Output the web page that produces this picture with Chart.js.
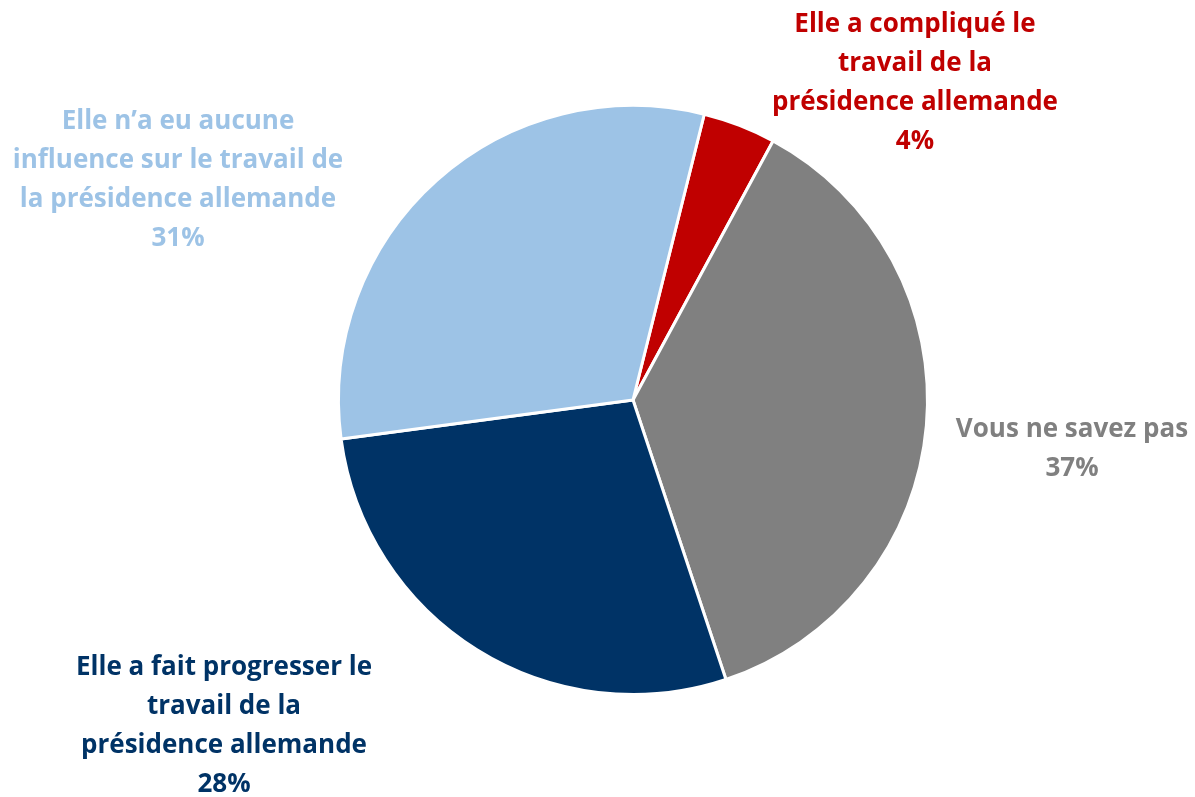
<!DOCTYPE html>
<html>
<head>
<meta charset="utf-8">
<script src="https://cdn.jsdelivr.net/npm/chart.js@4"></script>
<style>
  html, body { margin: 0; padding: 0; background: #fff; }
  #wrap { width: 1195px; height: 797px; }
</style>
</head>
<body>
<div id="wrap"><canvas id="myChart" width="1195" height="797"></canvas></div>
<script>
// slices, clockwise from the red one
const categories = [
    ['Elle a compliqué le', 'travail de la', 'présidence allemande'],
    ['Vous ne savez pas'],
    ['Elle a fait progresser le', 'travail de la', 'présidence allemande'],
    ['Elle n\u2019a eu aucune', 'influence sur le travail de', 'la présidence allemande']
];
const values = [4, 37, 28, 31];
const colors = ['#C00000', '#808080', '#003366', '#9DC3E6'];

// where each label block is centred (x, y of the first line)
const labelPos = [
    { x: 915, y: 25 },
    { x: 1072, y: 430 },
    { x: 224, y: 668 },
    { x: 178, y: 122 }
];
const lineH = 39;

const labelPlugin = {
    id: 'sliceLabels',
    afterDraw(chart) {
        const c = chart.ctx;
        c.save();
        c.font = 'bold 26px "Open Sans"';
        c.textAlign = 'center';
        c.textBaseline = 'middle';
        categories.forEach((lines, i) => {
            c.fillStyle = colors[i];
            const all = lines.concat([values[i] + '%']);
            all.forEach((t, j) => {
                c.fillText(t, labelPos[i].x, labelPos[i].y + j * lineH);
            });
        });
        c.restore();
    }
};

const ctx = document.getElementById('myChart').getContext('2d');

const config = {
    type: 'pie',
    data: {
        labels: categories.map(l => l.join(' ')),
        datasets: [{
            data: values,
            backgroundColor: colors,
            borderColor: '#ffffff',
            borderWidth: 3
        }]
    },
    options: {
        responsive: false,
        animation: false,
        rotation: 14,
        layout: {
            padding: { left: 337, right: 266, top: 104, bottom: 101 }
        },
        plugins: {
            legend: { display: false },
            tooltip: { enabled: false }
        }
    },
    plugins: [labelPlugin]
};

const myChart = new Chart(ctx, config);
</script>
</body>
</html>
